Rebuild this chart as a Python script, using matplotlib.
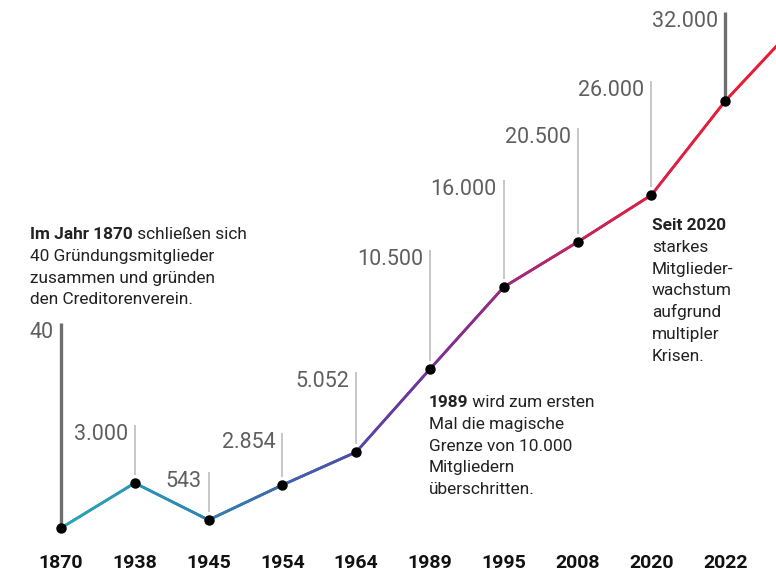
import matplotlib
matplotlib.use("Agg")
import matplotlib.pyplot as plt
import numpy as np
from matplotlib.collections import LineCollection
from matplotlib.colors import LinearSegmentedColormap
from matplotlib.transforms import offset_copy

plt.rcParams['font.family'] = ['Roboto', 'DejaVu Sans']

# data
years = ['1870', '1938', '1945', '1954', '1964', '1989', '1995', '2008', '2020', '2022']
member_labels = ['40', '3.000', '543', '2.854', '5.052', '10.500', '16.000', '20.500', '26.000', '32.000']
# schematic height of each point as drawn (not to scale)
plot_level = [47, 92, 55, 90, 123, 206, 288, 333, 380, 474]
tail_level = 553  # line keeps rising past 2022
# top of the grey marker lines, same units
stem_top = [252, 150, 103, 142, 203, 325, 395, 447, 494, 563]
dark_stems = ['1870', '2022']

fig = plt.figure(figsize=(7.76, 5.75), dpi=100)
ax = fig.add_axes([0, 0, 1, 1])
ax.set_xlim(-0.8266, 9.688)
ax.set_ylim(0, 575)
ax.axis('off')

x = np.arange(len(years))

# gradient line, teal -> purple -> red
cmap = LinearSegmentedColormap.from_list('grad', [
    (0.0, '#2aa6b6'), (0.2, '#2f86b2'), (0.4, '#4a55a8'), (0.5, '#68399f'),
    (0.6, '#8a2c8c'), (0.72, '#b2286c'), (0.84, '#d9204c'), (1.0, '#e81e36')])
xs = np.append(x, 10)
ys = np.append(plot_level, tail_level)
fx = np.linspace(0, 10, 800)
fy = np.interp(fx, xs, ys)
pts = np.column_stack([fx, fy]).reshape(-1, 1, 2)
segs = np.concatenate([pts[:-1], pts[1:]], axis=1)
lc = LineCollection(segs, cmap=cmap, linewidths=2.0, capstyle='round', zorder=2)
lc.set_array(np.clip(fx[:-1] / 9.2, 0, 1))
ax.add_collection(lc)

# stems and value labels
for i, (yr, lab) in enumerate(zip(years, member_labels)):
    if yr in dark_stems:
        ax.plot([i, i], [plot_level[i], stem_top[i]], color='#6e6e6e', lw=2.4,
                solid_capstyle='butt', zorder=1)
    else:
        ax.plot([i, i], [plot_level[i] + 8, stem_top[i]], color='#bdbdbd', lw=1.2,
                solid_capstyle='butt', zorder=1)
    tr = offset_copy(ax.transData, fig=fig, x=-5, y=1, units='points')
    ax.text(i, stem_top[i], lab, transform=tr, ha='right', va='top',
            fontsize=15.5, color='#5f5f5f')
    ax.text(i, 12, yr, ha='center', va='center', fontsize=14, fontweight='bold',
            color='#111111')

ax.plot(x, plot_level, 'o', color='black', markersize=6.5, zorder=3)

# annotations
FS = 12.4


def note(px, py, bold, rest_first, lines):
    t = fig.text(px / 776, 1 - py / 575, bold, fontsize=FS, fontweight='bold',
                 color='#222222', va='baseline', ha='left')
    if rest_first:
        ax.annotate(rest_first, xy=(1, 0), xycoords=t, va='bottom', ha='left',
                    fontsize=FS, color='#222222')
    for k, ln in enumerate(lines):
        fig.text(px / 776, 1 - (py + 21.8 * (k + 1)) / 575, ln, fontsize=FS,
                 color='#222222', va='baseline', ha='left')


note(30, 239, 'Im Jahr 1870', ' schließen sich',
     ['40 Gründungsmitglieder', 'zusammen und gründen', 'den Creditorenverein.'])
note(429, 407, '1989', ' wird zum ersten',
     ['Mal die magische', 'Grenze von 10.000', 'Mitgliedern', 'überschritten.'])
note(652, 230, 'Seit 2020', '',
     ['starkes', 'Mitglieder-', 'wachstum', 'aufgrund', 'multipler', 'Krisen.'])

fig.savefig('out.png', dpi=100)
